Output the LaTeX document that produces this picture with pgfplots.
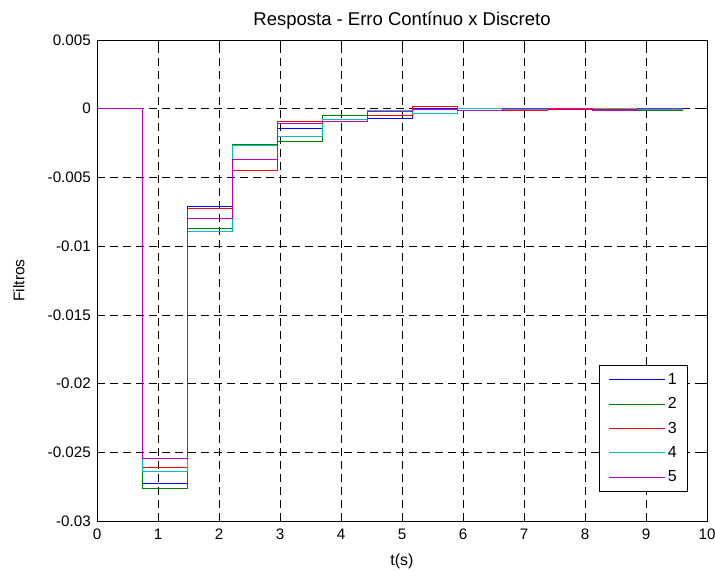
\documentclass[border=0pt]{standalone}
\usepackage{pgfplots}
\pgfplotsset{compat=1.18}
\usepackage{pgfplotstable}
\usepackage{fontspec}
\setmainfont{Liberation Sans}
\definecolor{mblue}{rgb}{0,0,1}
\definecolor{mgreen}{rgb}{0,0.5,0}
\definecolor{mred}{rgb}{1,0,0}
\definecolor{mcyan}{rgb}{0,0.75,0.75}
\definecolor{mmag}{rgb}{0.75,0,0.75}
\pgfplotstableread{
t       a         b         c         d         e
0       0         0         0         0         0
0.7385  -0.02724  -0.02760  -0.02610  -0.02639  -0.02547
1.4770  -0.00713  -0.00870  -0.00725  -0.00895  -0.00798
2.2155  -0.00270  -0.00262  -0.00446  -0.00266  -0.00366
2.9540  -0.00143  -0.00240  -0.00090  -0.00199  -0.00109
3.6925  -0.00080  -0.00048  -0.00077  -0.00080  -0.00094
4.4310  -0.00068  -0.00010  -0.00046  -0.00010  -0.00020
5.1695   0.00005  -0.00034   0.00015  -0.00034  -0.00005
5.9080  -0.00010  -0.00010  -0.00010   0.00000  -0.00015
6.6465   0.00000  -0.00005  -0.00010  -0.00005   0.00000
7.3850  -0.00005  -0.00005  -0.00005   0.00000   0.00000
8.1235  -0.00005  -0.00005  -0.00005   0.00000  -0.00010
8.8620  -0.00005  -0.00010  -0.00005  -0.00005   0.00000
9.6005  -0.00005  -0.00010  -0.00005  -0.00005   0.00000
}\datatable
\begin{document}
\fontsize{15bp}{18bp}\selectfont
\begin{tikzpicture}
\begin{axis}[
  scale only axis,
  width=610bp, height=481bp,
  xmin=0, xmax=10, ymin=-0.03, ymax=0.005,
  xtick={0,1,...,10},
  ytick={-0.03,-0.025,-0.02,-0.015,-0.01,-0.005,0,0.005},
  yticklabels={-0.03,-0.025,-0.02,-0.015,-0.01,-0.005,0,0.005},
  /pgf/number format/assume math mode=true,
  scaled y ticks=false,
  tick align=inside,
  major tick length=6bp,
  tick style={black, line width=0.6bp},
  axis line style={black, line width=0.8bp},
  grid=major,
  major grid style={black, line width=0.5bp, dash pattern=on 8bp off 5bp},
  ticklabel style={font=\fontsize{15.2bp}{18bp}\selectfont},
  xticklabel style={yshift=-3bp},
  yticklabel style={xshift=-1bp},
  title={Resposta - Erro Contínuo x Discreto},
  title style={font=\fontsize{18.5bp}{22bp}\selectfont, yshift=-1bp},
  xlabel={t(s)},
  ylabel={Filtros},
  xlabel style={font=\fontsize{16bp}{19bp}\selectfont, yshift=-4bp},
  ylabel style={font=\fontsize{15.5bp}{19bp}\selectfont, yshift=13bp},
  legend style={at={(0.969,0.06)}, anchor=south east, draw=black, line width=0.8bp, fill=white,
    font=\fontsize{16bp}{19bp}\selectfont, row sep=7bp, inner xsep=9bp, inner ysep=6bp},
  legend cell align=left,
  legend image code/.code={\draw[#1, line width=1bp] (0bp,0bp) -- (56bp,0bp);},
  every axis plot/.append style={line width=1bp, const plot mark left, no markers},
]
\addplot[mblue] table[x=t, y=a] {\datatable};
\addplot[mgreen] table[x=t, y=b] {\datatable};
\addplot[mred] table[x=t, y=c] {\datatable};
\addplot[mcyan] table[x=t, y=d] {\datatable};
\addplot[mmag] table[x=t, y=e] {\datatable};
\legend{1,2,3,4,5}
\coordinate (bl) at (rel axis cs:0,0);
\coordinate (tr) at (rel axis cs:1,1);
\end{axis}
\pgfresetboundingbox
\path[use as bounding box] ([shift={(-97bp,-50bp)}]bl) rectangle ([shift={(8bp,40bp)}]tr);
\end{tikzpicture}
\end{document}
